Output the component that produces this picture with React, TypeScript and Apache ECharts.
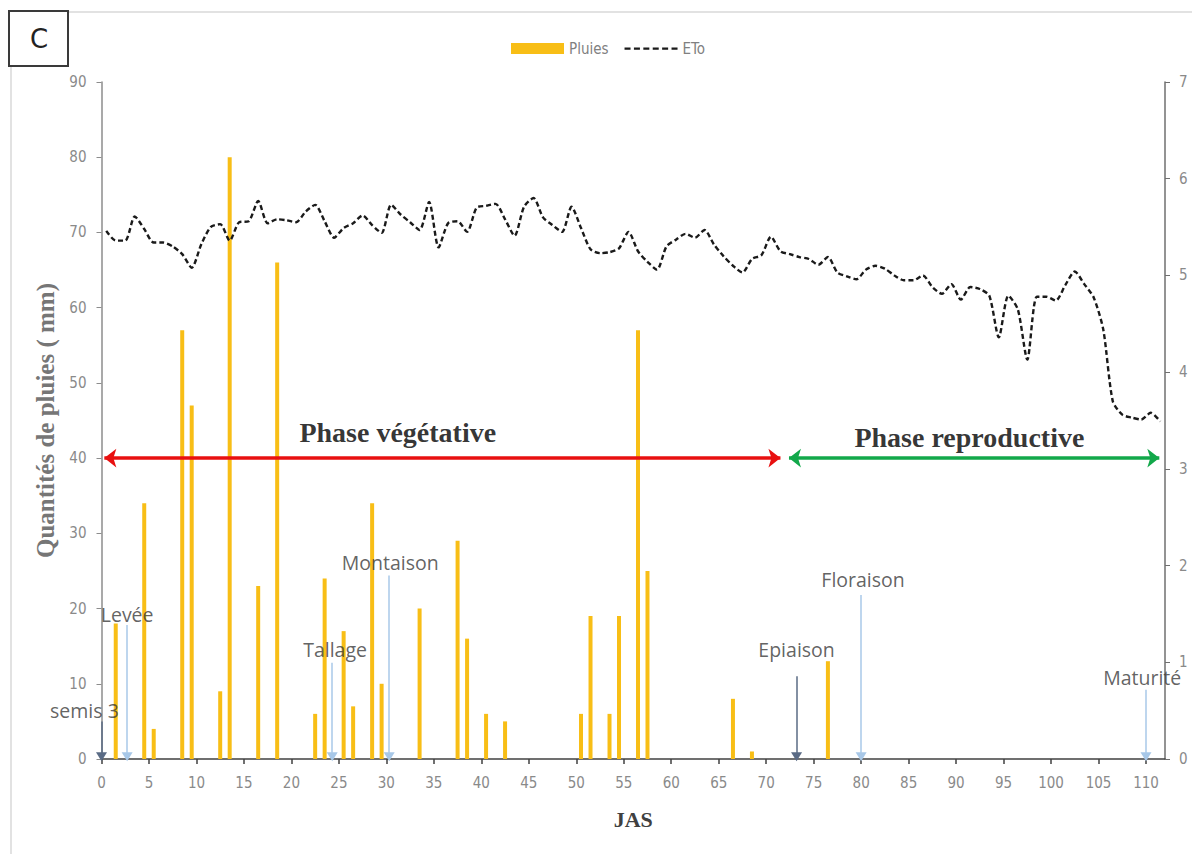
import React, { useEffect, useRef } from "react";
import * as echarts from "echarts";

// Day index (1-based); each day is drawn centred at day - 0.5 on the JAS axis
const rainDays = [2, 5, 6, 9, 10, 13, 14, 17, 19, 23, 24, 26, 27, 29, 30, 34, 38, 39, 41, 43, 51, 52, 54, 55, 57, 58, 67, 69, 77];
const rainValues = [18, 34, 4, 57, 47, 9, 80, 23, 66, 6, 24, 17, 7, 34, 10, 20, 29, 16, 6, 5, 6, 19, 6, 19, 57, 25, 8, 1, 13];

const etoValues = [
  5.46, 5.36, 5.36, 5.61, 5.48, 5.34, 5.34, 5.30, 5.22, 5.08,
  5.32, 5.50, 5.53, 5.36, 5.55, 5.56, 5.77, 5.54, 5.58, 5.57,
  5.55, 5.66, 5.73, 5.56, 5.39, 5.49, 5.54, 5.62, 5.52, 5.44,
  5.73, 5.63, 5.55, 5.47, 5.76, 5.29, 5.54, 5.56, 5.45, 5.70,
  5.72, 5.74, 5.58, 5.41, 5.71, 5.80, 5.60, 5.52, 5.45, 5.71,
  5.49, 5.27, 5.23, 5.24, 5.28, 5.45, 5.25, 5.14, 5.06, 5.30,
  5.37, 5.43, 5.39, 5.47, 5.32, 5.20, 5.10, 5.03, 5.17, 5.21,
  5.40, 5.25, 5.22, 5.19, 5.17, 5.11, 5.19, 5.03, 4.99, 4.96,
  5.06, 5.10, 5.07, 5.00, 4.95, 4.95, 5.00, 4.88, 4.81, 4.91,
  4.75, 4.88, 4.86, 4.79, 4.36, 4.79, 4.65, 4.13, 4.78, 4.78,
  4.74, 4.90, 5.04, 4.91, 4.77, 4.44, 3.70, 3.56, 3.53, 3.51,
  3.58, 3.49,
];
const etoDays = etoValues.map((_, i) => i + 1);

// Growth stage annotations (x on JAS axis, arrow top and label centre in mm units)
const stageNames = ["semis 3", "Levée", "Tallage", "Montaison", "Epiaison", "Floraison", "Maturité"];
const stageX = [0, 2.7, 24.3, 30.3, 73.2, 80.0, 110.0];
const stageArrowTop = [5, 17.8, 12.8, 24.4, 11.0, 21.8, 9.2];
const stageLabelX = [-1.8, 2.7, 24.6, 30.4, 73.2, 80.2, 109.6];
const stageLabelY = [6.4, 19.2, 14.6, 26.1, 14.5, 23.8, 10.9];
const stageDark = [true, false, false, false, true, false, false];

// Phases
const phaseNames = ["Phase végétative", "Phase reproductive"];
const phaseStart = [0.3, 72.4];
const phaseEnd = [71.5, 111.4];
const phaseLevel = 40;
const phaseColors = ["#E81010", "#12A84A"];
const phaseLabelX = [31.2, 91.4];
const phaseLabelY = [43.4, 42.8];

const leftTicks = { min: 0, max: 90, interval: 10 };
const rightTicks = { min: 0, max: 7, interval: 1 };
const xTicks = { min: 0, max: 112, interval: 5 };

const dashedIcon =
  "path://M0,0L0,0Z M53,11L53,11Z M0,4.5h6v2.2h-6z M9.4,4.5h6v2.2h-6z M18.8,4.5h6v2.2h-6z M28.2,4.5h6v2.2h-6z M37.6,4.5h6v2.2h-6z M47,4.5h6v2.2h-6z";

export default function App() {
  const ref = useRef<HTMLDivElement>(null);

  useEffect(() => {
    document.body.style.margin = "0";
    const chart = echarts.init(ref.current!, undefined, { renderer: "svg" });
    const tickFont = "'Liberation Sans Narrow', 'DejaVu Sans Condensed', 'Open Sans', sans-serif";
    const serif = "'Liberation Serif', 'DejaVu Serif', serif";

    const stageLines = stageNames.map((_, i) => [
      {
        coord: [stageX[i], stageArrowTop[i]],
        lineStyle: { color: stageDark[i] ? "#5A6B85" : "#A8C8E8", width: 1.5, type: "solid" },
        symbol: "none",
      },
      {
        coord: [stageX[i], 0.3],
        symbol: "triangle",
        symbolSize: [11, 9],
        itemStyle: { color: stageDark[i] ? "#2F5597" : "#5B9BD5" },
      },
    ]);
    const phaseLines = phaseNames.map((_, i) => [
      {
        coord: [phaseStart[i], phaseLevel],
        lineStyle: { color: phaseColors[i], width: 3.5, type: "solid" },
        itemStyle: { color: phaseColors[i] },
      },
      { coord: [phaseEnd[i], phaseLevel], itemStyle: { color: phaseColors[i] } },
    ]);

    chart.setOption({
      animation: false,
      backgroundColor: "#ffffff",
      grid: { left: 101.5, right: 27, top: 82, bottom: 95, containLabel: false },
      legend: {
        data: [
          { name: "Pluies", icon: "rect" },
          { name: "ETo", icon: dashedIcon },
        ],
        left: 506,
        top: 36,
        itemWidth: 53,
        itemHeight: 11,
        itemGap: 16,
        textStyle: { color: "#808080", fontSize: 15, fontFamily: tickFont },
      },
      xAxis: {
        type: "value",
        min: xTicks.min,
        max: xTicks.max,
        interval: xTicks.interval,
        name: "JAS",
        nameLocation: "middle",
        nameGap: 49,
        nameTextStyle: { fontFamily: serif, fontWeight: "bold", fontSize: 22, color: "#404040" },
        axisLine: { show: true, onZero: false, lineStyle: { color: "#404040", width: 1.5 } },
        axisTick: { show: true, length: 5, lineStyle: { color: "#404040", width: 1.5 } },
        axisLabel: { color: "#8a8a8a", fontSize: 15, margin: 16, fontFamily: tickFont, showMaxLabel: false },
        splitLine: { show: false },
      },
      yAxis: [
        {
          type: "value",
          min: leftTicks.min,
          max: leftTicks.max,
          interval: leftTicks.interval,
          name: "Quantités de pluies ( mm)",
          nameLocation: "middle",
          nameGap: 44,
          nameTextStyle: { fontFamily: serif, fontWeight: "bold", fontSize: 25, color: "#767676" },
          axisLine: { show: true, lineStyle: { color: "#8c8c8c", width: 1.5 } },
          axisTick: { show: true, length: 5, lineStyle: { color: "#8c8c8c" } },
          axisLabel: { color: "#8a8a8a", fontSize: 15, margin: 15, fontFamily: tickFont },
          splitLine: { show: false },
        },
        {
          type: "value",
          position: "right",
          min: rightTicks.min,
          max: rightTicks.max,
          interval: rightTicks.interval,
          axisLine: { show: true, lineStyle: { color: "#6f6f6f", width: 1.5 } },
          axisTick: { show: true, length: 5, lineStyle: { color: "#6f6f6f" } },
          axisLabel: { color: "#8a8a8a", fontSize: 15, margin: 14, fontFamily: tickFont },
          splitLine: { show: false },
        },
      ],
      series: [
        {
          name: "Pluies",
          type: "bar",
          yAxisIndex: 0,
          barWidth: 4,
          itemStyle: { color: "#F8BE16" },
          data: rainDays.map((d, i) => [d - 0.5, rainValues[i]]),
        },
        {
          name: "ETo",
          type: "line",
          yAxisIndex: 1,
          symbol: "none",
          smooth: 0.25,
          lineStyle: { color: "#1a1a1a", width: 2.4, type: [5, 3] },
          itemStyle: { color: "#1a1a1a" },
          data: etoDays.map((d, i) => [d - 0.5, etoValues[i]]),
        },
        {
          name: "stages",
          type: "scatter",
          yAxisIndex: 0,
          clip: false,
          symbolSize: 1,
          itemStyle: { color: "rgba(0,0,0,0)" },
          silent: true,
          label: {
            show: true,
            position: "inside",
            formatter: (p: any) => p.name,
            color: "#3a3a3a",
            fontSize: 19.5,
            fontFamily: "'Open Sans', sans-serif",
          },
          data: stageNames.map((n, i) => ({ name: n, value: [stageLabelX[i], stageLabelY[i]] })),
          markLine: {
            silent: true,
            animation: false,
            symbol: ["none", "triangle"],
            symbolSize: [11, 9],
            label: { show: false },
            data: stageLines,
          },
        },
        {
          name: "phases",
          type: "scatter",
          yAxisIndex: 0,
          clip: false,
          symbolSize: 1,
          itemStyle: { color: "rgba(0,0,0,0)" },
          silent: true,
          label: {
            show: true,
            position: "inside",
            formatter: (p: any) => p.name,
            color: "#000000",
            fontSize: 28,
            fontWeight: "bold",
            fontFamily: serif,
          },
          data: phaseNames.map((n, i) => ({ name: n, value: [phaseLabelX[i], phaseLabelY[i]] })),
          markLine: {
            silent: true,
            animation: false,
            symbol: ["arrow", "arrow"],
            symbolSize: [14, 12],
            label: { show: false },
            data: phaseLines,
          },
        },
      ],
      graphic: [
        {
          type: "rect",
          shape: { x: 11, y: 12, width: 1300, height: 1000 },
          style: { fill: "none", stroke: "#d9d9d9", lineWidth: 1.5 },
          silent: true,
          z: -1,
        },
        {
          type: "rect",
          shape: { x: 9, y: 11, width: 59, height: 55 },
          style: { fill: "#ffffff", stroke: "#3a3a3a", lineWidth: 2 },
          silent: true,
        },
        {
          type: "text",
          x: 39,
          y: 39,
          style: {
            text: "C",
            fill: "#222222",
            fontSize: 26,
            fontFamily: "'DejaVu Sans', sans-serif",
            align: "center",
            verticalAlign: "middle",
          },
          silent: true,
        },
      ],
    });

    return () => chart.dispose();
  }, []);

  return <div ref={ref} style={{ width: 1192, height: 854 }} />;
}
